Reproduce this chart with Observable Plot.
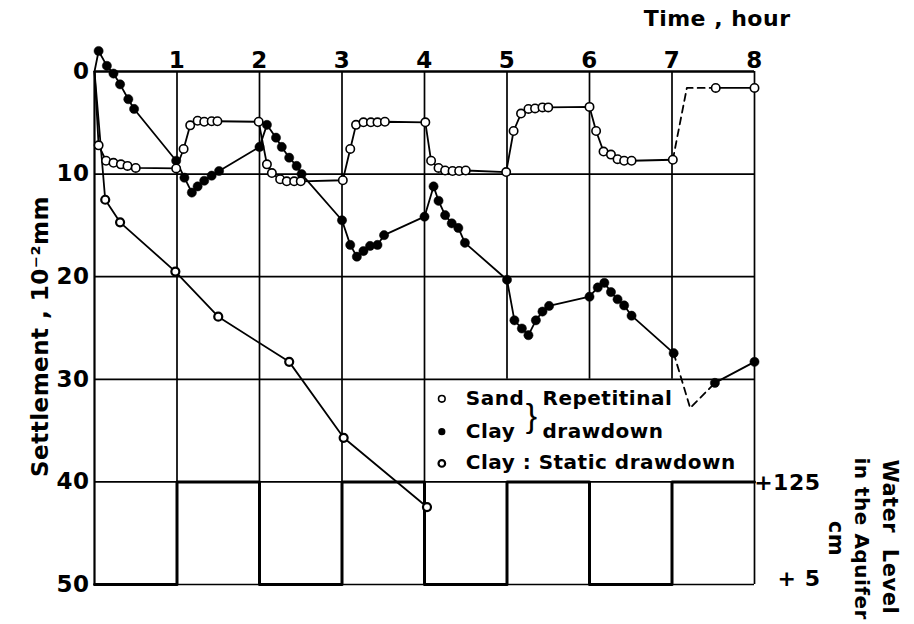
<!DOCTYPE html>
<html><head><meta charset="utf-8">
<script src="https://cdn.jsdelivr.net/npm/d3@7"></script>
<script src="https://cdn.jsdelivr.net/npm/@observablehq/plot@0.6"></script>
<style>
body{margin:0;background:#fff;}
#chart svg text{letter-spacing:0.5px;}
</style></head><body><div id="chart"></div>
<script>
// ---- tick labels / categories ----
const hourTicks = [1, 2, 3, 4, 5, 6, 7, 8];
const settleTicks = [0, 10, 20, 30, 40, 50];
const gridHoursFull = [0, 1, 2, 3, 4, 8];
const gridHoursSplit = [5, 6, 7];
const waterLevelTicks = [125, 5];
const waterLevelLabels = ["+125", "+ 5"];

// ---- water level in the aquifer (cm), value from each hour on ----
const waterHours = [0, 1, 2, 3, 4, 5, 6, 7, 8];
const waterLevel = [5, 125, 5, 125, 5, 125, 5, 125, 125];

// ---- Sand, repetitive drawdown (settlement 10^-2 mm) ----
const sandHours = [0, 0.05, 0.14, 0.23, 0.32, 0.40, 0.50,
  0.99, 1.08, 1.16, 1.25, 1.33, 1.42, 1.49,
  1.99, 2.09, 2.15, 2.25, 2.33, 2.42, 2.50,
  3.01, 3.10, 3.17, 3.26, 3.35, 3.43, 3.52,
  4.01, 4.08, 4.17, 4.25, 4.34, 4.42, 4.50,
  4.99, 5.08, 5.17, 5.26, 5.34, 5.43, 5.50,
  6.00, 6.08, 6.17, 6.26, 6.34, 6.42, 6.51,
  7.01];
const sandSettle = [0, 7.2, 8.7, 8.9, 9.05, 9.2, 9.4,
  9.45, 7.55, 5.25, 4.8, 4.9, 4.85, 4.85,
  4.9, 9.05, 9.9, 10.5, 10.7, 10.7, 10.7,
  10.6, 7.55, 5.2, 4.95, 4.95, 4.95, 4.9,
  4.95, 8.7, 9.4, 9.65, 9.7, 9.7, 9.65,
  9.8, 5.8, 4.1, 3.65, 3.6, 3.5, 3.5,
  3.45, 5.8, 7.8, 8.1, 8.55, 8.7, 8.7,
  8.6];
const sandDashHours = [7.01, 7.18, 7.53];
const sandDashSettle = [8.6, 1.6, 1.6];
const sandEndHours = [7.53, 8.0];
const sandEndSettle = [1.6, 1.6];

// ---- Clay, repetitive drawdown ----
const clayHours = [0, 0.05, 0.15, 0.23, 0.31, 0.41, 0.48,
  0.99, 1.09, 1.18, 1.25, 1.33, 1.42, 1.51,
  2.00, 2.09, 2.20, 2.27, 2.36, 2.45, 2.51,
  3.00, 3.10, 3.18, 3.26, 3.34, 3.43, 3.51,
  4.00, 4.11, 4.17, 4.25, 4.33, 4.41, 4.49,
  5.00, 5.09, 5.18, 5.26, 5.35, 5.43, 5.51,
  6.00, 6.10, 6.18, 6.26, 6.34, 6.42, 6.51,
  7.02];
const claySettle = [0, -2.0, -0.55, 0.2, 1.25, 2.7, 3.65,
  8.7, 10.35, 11.8, 11.2, 10.65, 10.15, 9.7,
  7.35, 5.2, 6.45, 7.35, 8.4, 9.2, 10.0,
  14.5, 16.9, 18.05, 17.5, 17.0, 16.9, 15.95,
  14.15, 11.2, 12.6, 14.0, 14.8, 15.25, 16.7,
  20.3, 24.25, 25.05, 25.7, 24.25, 23.4, 22.85,
  21.95, 21.05, 20.6, 21.5, 22.2, 22.8, 23.8,
  27.45];
const clayDashHours = [7.02, 7.22, 7.52];
const clayDashSettle = [27.45, 32.8, 30.35];
const clayEndHours = [7.52, 8.0];
const clayEndSettle = [30.35, 28.3];

// ---- Clay, static drawdown ----
const staticHours = [0, 0.13, 0.31, 0.98, 1.5, 2.36, 3.02, 4.03];
const staticSettle = [0, 12.5, 14.7, 19.5, 23.9, 28.3, 35.7, 42.45];

// ---- texts ----
const titleX = "Time , hour";
const titleY = "Settlement , 10⁻²mm";
const titleRight = ["Water  Level", "in the Aquifer", "cm"];
const legendLabels = ["Sand", "Clay", "Clay : Static drawdown"];
const legendGroup = ["Repetitinal", "drawdown"];

// ---- helpers ----
const pts = (hs, vs) => hs.map((h, i) => ({h, v: vs[i]}));
const levelToY = lv => 50 - (lv - 5) / 120 * 10;

const sand = pts(sandHours, sandSettle);
const sandDash = pts(sandDashHours, sandDashSettle);
const sandEnd = pts(sandEndHours, sandEndSettle);
const clay = pts(clayHours, claySettle);
const clayDash = pts(clayDashHours, clayDashSettle);
const clayEnd = pts(clayEndHours, clayEndSettle);
const stat = pts(staticHours, staticSettle);
const water = waterHours.map((h, i) => ({h, v: levelToY(waterLevel[i])}));
const waterTickRows = waterLevelTicks.map((lv, i) => ({v: levelToY(lv), label: waterLevelLabels[i]}));

const font = "DejaVu Sans";
const lw = 1.8;

const chart = Plot.plot({
  width: 914, height: 624,
  marginTop: 71, marginBottom: 40, marginLeft: 94, marginRight: 160,
  x: {domain: [0, 8], axis: null},
  y: {domain: [0, 50], range: [71, 584], axis: null},
  style: {fontFamily: font, fontWeight: "bold", fontSize: "23px", background: "white", color: "black", overflow: "visible"},
  marks: [
    // grid
    Plot.ruleY(settleTicks, {y: d => d, x1: 0, x2: 8, stroke: "black", strokeWidth: d => d === 0 ? 2.4 : 1.7}),
    Plot.ruleX(gridHoursFull, {x: d => d, y1: 0, y2: 50, stroke: "black", strokeWidth: d => d === 0 ? 2.2 : 1.7}),
    Plot.ruleX(gridHoursSplit, {x: d => d, y1: 0, y2: 30, stroke: "black", strokeWidth: 1.7}),
    Plot.ruleX(gridHoursSplit, {x: d => d, y1: 40, y2: 50, stroke: "black", strokeWidth: 1.7}),
    // water level square wave
    Plot.line(water, {x: "h", y: "v", curve: "step-after", stroke: "black", strokeWidth: 3}),
    // static clay
    Plot.line(stat, {x: "h", y: "v", stroke: "black", strokeWidth: lw}),
    // repetitive lines
    Plot.line(clay, {x: "h", y: "v", stroke: "black", strokeWidth: lw}),
    Plot.line(clayDash, {x: "h", y: "v", stroke: "black", strokeWidth: lw, strokeDasharray: "7,5"}),
    Plot.line(clayEnd, {x: "h", y: "v", stroke: "black", strokeWidth: lw}),
    Plot.line(sand, {x: "h", y: "v", stroke: "black", strokeWidth: lw}),
    Plot.line(sandDash, {x: "h", y: "v", stroke: "black", strokeWidth: lw, strokeDasharray: "7,5"}),
    Plot.line(sandEnd, {x: "h", y: "v", stroke: "black", strokeWidth: lw}),
    // markers
    Plot.dot(stat.filter(d => d.h > 0), {x: "h", y: "v", r: 4, fill: "white", stroke: "black", strokeWidth: 2.2}),
    Plot.dot(clay.filter(d => d.h > 0).concat(clayEnd), {x: "h", y: "v", r: 4.6, fill: "black", stroke: "black", strokeWidth: 0.5}),
    Plot.dot(sand.filter(d => d.h > 0).concat(sandEnd), {x: "h", y: "v", r: 4.2, fill: "white", stroke: "black", strokeWidth: 1.6}),
    // axes labels
    Plot.text(hourTicks, {x: d => d, frameAnchor: "top", dy: -11, text: d => String(d), lineAnchor: "middle", fontSize: 23}),
    Plot.text(settleTicks, {y: d => d, frameAnchor: "left", dx: -5, text: d => String(d), textAnchor: "end", lineAnchor: "middle", fontSize: 23}),
    Plot.text(waterTickRows.slice(0, 1), {y: "v", frameAnchor: "right", dx: 66, dy: 1, text: "label", textAnchor: "end", lineAnchor: "middle", fontSize: 22}),
    Plot.text(waterTickRows.slice(1), {y: "v", frameAnchor: "right", dx: 66, dy: -6, text: "label", textAnchor: "end", lineAnchor: "middle", fontSize: 22}),
    Plot.text([titleX], {frameAnchor: "top-right", dx: 36, dy: -53, text: d => d, textAnchor: "end", lineAnchor: "middle", fontSize: 22}),
    Plot.text([titleY], {frameAnchor: "top-left", dx: -54, dy: 265, text: d => d, rotate: -90, textAnchor: "middle", lineAnchor: "middle", fontSize: 23}),
    Plot.text([titleRight[0]], {frameAnchor: "top-right", dx: 135, dy: 388, text: d => d, rotate: 90, textAnchor: "start", lineAnchor: "middle", fontSize: 21}),
    Plot.text([titleRight[1]], {frameAnchor: "top-right", dx: 107, dy: 386, text: d => d, rotate: 90, textAnchor: "start", lineAnchor: "middle", fontSize: 20}),
    Plot.text([titleRight[2]], {frameAnchor: "top-right", dx: 81, dy: 467, text: d => d, rotate: 90, textAnchor: "middle", lineAnchor: "middle", fontSize: 21}),
    // legend
    Plot.dot([0], {x: 4.21, y: 31.9, r: 3.3, fill: "white", stroke: "black", strokeWidth: 1.6}),
    Plot.dot([0], {x: 4.21, y: 35.1, r: 3.6, fill: "black"}),
    Plot.dot([0], {x: 4.21, y: 38.2, r: 3.3, fill: "white", stroke: "black", strokeWidth: 2.2}),
    Plot.text(legendLabels, {x: 4.5, y: (d, i) => [31.9, 35.1, 38.1][i], text: d => d, textAnchor: "start", lineAnchor: "middle", fontSize: 20}),
    Plot.text(legendGroup, {x: 5.43, y: (d, i) => [31.9, 35.1][i], text: d => d, textAnchor: "start", lineAnchor: "middle", fontSize: 20}),
    Plot.text(["}"], {x: 5.3, y: 33.6, text: d => d, textAnchor: "middle", lineAnchor: "middle", fontSize: 34, fontWeight: "normal", fontFamily: "Liberation Sans"})
  ]
});
document.getElementById("chart").appendChild(chart);
</script></body></html>
